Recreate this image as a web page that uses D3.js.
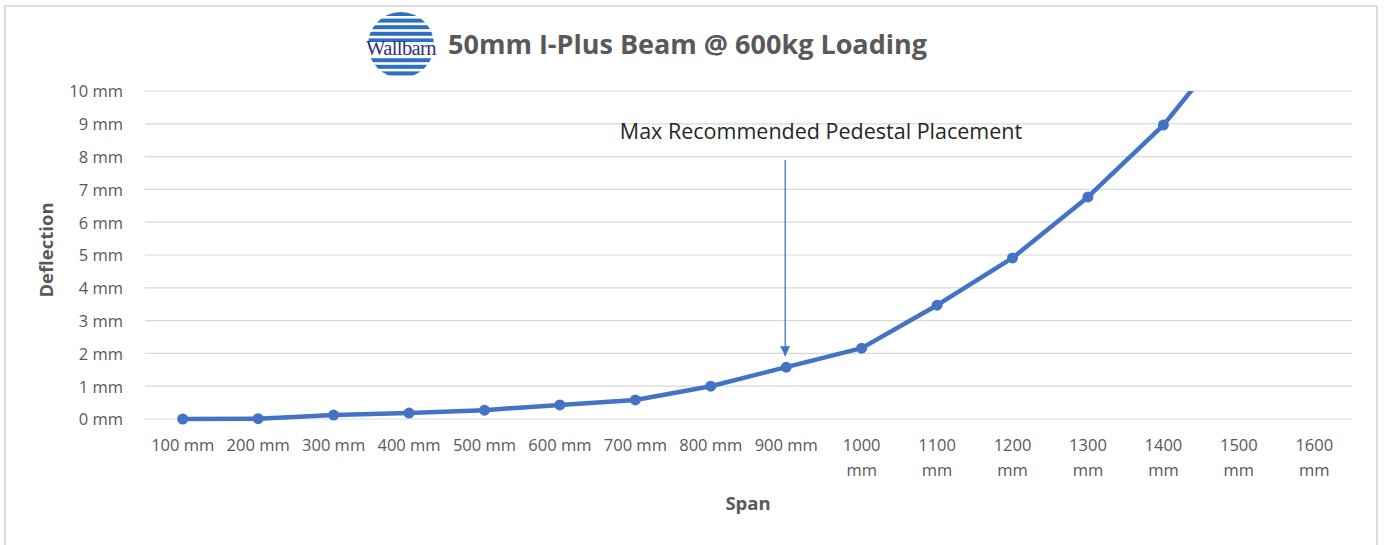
<!DOCTYPE html>
<html>
<head>
<meta charset="utf-8">
<script src="https://cdn.jsdelivr.net/npm/d3@7"></script>
<style>
  body { margin: 0; background: #fff; }
  text { font-family: "Open Sans", "Noto Sans", sans-serif; }
</style>
</head>
<body>
<script>
// chart data
const spans = ['100 mm', '200 mm', '300 mm', '400 mm', '500 mm', '600 mm', '700 mm', '800 mm',
    '900 mm', '1000 mm', '1100 mm', '1200 mm', '1300 mm', '1400 mm', '1500 mm', '1600 mm']
const deflection = [0, 0.01, 0.12, 0.18, 0.27, 0.43, 0.58, 1.0,
    1.58, 2.16, 3.47, 4.91, 6.77, 8.96, 11.8, 15.2]
const yTicks = [0, 1, 2, 3, 4, 5, 6, 7, 8, 9, 10]
const title = '50mm I-Plus Beam @ 600kg Loading'
const note = 'Max Recommended Pedestal Placement'
const noteSpan = '900 mm'

const m = { width: 1384, height: 545 }
const plot = { left: 145, right: 1352, top: 91, bottom: 419 }
const blue = '#4472C4'
const grey = '#595959'

const svg = d3.select('body').append('svg')
    .attr('width', m.width)
    .attr('height', m.height)

// outer chart frame (bottom edge is cut off in the original)
svg.append('path')
    .attr('d', 'M5,545 V6 H1377 V545')
    .attr('fill', 'none')
    .attr('stroke', '#dedede')
    .attr('stroke-width', 2)

const x = d3.scaleBand()
    .domain(spans)
    .range([plot.left, plot.right])

const y = d3.scaleLinear()
    .domain([0, 10])
    .range([plot.bottom, plot.top])

// gridlines
svg.append('g')
    .selectAll('line')
    .data(yTicks)
    .enter()
    .append('line')
        .attr('x1', plot.left)
        .attr('x2', plot.right)
        .attr('y1', d => y(d))
        .attr('y2', d => y(d))
        .attr('stroke', '#d9d9d9')
        .attr('stroke-width', 1.2)

// y axis labels
const yAxis = svg.append('g')
    .attr('transform', `translate(${plot.left - 19},0)`)
    .call(d3.axisLeft(y).tickValues(yTicks).tickSize(0).tickFormat(d => d + ' mm'))
yAxis.select('.domain').remove()
yAxis.selectAll('text')
    .attr('fill', grey)
    .attr('dy', '0.36em')
    .style('font-size', '16.5px')
    .style('font-family', '"Open Sans", sans-serif')

// x axis labels, wrapped like the original when they are too wide
const xAxis = svg.append('g')
    .attr('transform', `translate(0,${plot.bottom + 32})`)
    .call(d3.axisBottom(x).tickSize(0).tickFormat(''))
xAxis.select('.domain').remove()
xAxis.selectAll('.tick').each(function(d) {
    const t = d3.select(this).append('text')
        .attr('fill', grey)
        .attr('text-anchor', 'middle')
        .style('font-size', '16.5px')
    const parts = d.split(' ')
    if (parts[0].length > 3) {
        t.append('tspan').attr('x', 0).attr('y', 0).text(parts[0])
        t.append('tspan').attr('x', 0).attr('y', 25).text(parts[1])
    } else {
        t.attr('y', 0).text(d)
    }
})

// axis titles
svg.append('text')
    .attr('transform', `translate(53,${(plot.top + plot.bottom) / 2 - 5}) rotate(-90)`)
    .attr('text-anchor', 'middle')
    .attr('fill', grey)
    .style('font-size', '18.5px')
    .style('font-weight', 'bold')
    .text('Deflection')

svg.append('text')
    .attr('x', 748)
    .attr('y', 510)
    .attr('text-anchor', 'middle')
    .attr('fill', grey)
    .style('font-size', '18.5px')
    .style('font-weight', 'bold')
    .text('Span')

// series line, clipped to the plot area
svg.append('clipPath').attr('id', 'clip')
    .append('rect')
        .attr('x', plot.left - 10)
        .attr('y', plot.top)
        .attr('width', plot.right - plot.left + 20)
        .attr('height', plot.bottom - plot.top + 10)

const cx = i => x(spans[i]) + x.bandwidth() / 2
const line = d3.line()
    .x((d, i) => cx(i))
    .y(d => y(d))

const series = svg.append('g').attr('clip-path', 'url(#clip)')
series.append('path')
    .datum(deflection)
    .attr('fill', 'none')
    .attr('stroke', blue)
    .attr('stroke-width', 4.5)
    .attr('stroke-linejoin', 'round')
    .attr('d', line)

series.selectAll('circle')
    .data(deflection)
    .enter()
    .append('circle')
        .attr('cx', (d, i) => cx(i))
        .attr('cy', d => y(d))
        .attr('r', 5.5)
        .attr('fill', blue)

// annotation with arrow
svg.append('defs').append('marker')
    .attr('id', 'arrow')
    .attr('viewBox', '0 0 10 10')
    .attr('refX', 10)
    .attr('refY', 5)
    .attr('markerWidth', 10)
    .attr('markerHeight', 10)
    .attr('markerUnits', 'userSpaceOnUse')
    .attr('orient', 'auto')
    .append('path')
        .attr('d', 'M0,0 L10,5 L0,10 Z')
        .attr('fill', blue)

const ni = spans.indexOf(noteSpan)
svg.append('line')
    .attr('x1', cx(ni) - 1)
    .attr('x2', cx(ni) - 1)
    .attr('y1', 160)
    .attr('y2', y(deflection[ni]) - 11)
    .attr('stroke', blue)
    .attr('stroke-width', 1.3)
    .attr('marker-end', 'url(#arrow)')

svg.append('text')
    .attr('x', 821)
    .attr('y', 139)
    .attr('text-anchor', 'middle')
    .attr('fill', '#262626')
    .style('font-size', '21.5px')
    .text(note)

// title + logo
const logo = svg.append('g').attr('transform', 'translate(401,45)')
logo.append('clipPath').attr('id', 'logoClip')
    .append('circle').attr('r', 33)
const stripes = logo.append('g').attr('clip-path', 'url(#logoClip)')
d3.range(-33, 34, 6.6).forEach(function(sy) {
    stripes.append('rect')
        .attr('x', -34)
        .attr('y', sy)
        .attr('width', 68)
        .attr('height', 4)
        .attr('fill', '#2f6fc0')
})
stripes.append('rect')
    .attr('x', -40).attr('y', -3).attr('width', 80).attr('height', 16)
    .attr('fill', '#fff')
logo.append('text')
    .attr('x', 0)
    .attr('y', 10)
    .attr('text-anchor', 'middle')
    .attr('fill', '#2b3384')
    .style('font-family', '"Liberation Serif", serif')
    .style('font-size', '20.5px')
    .style('letter-spacing', '-0.6px')
    .text('Wallbarn')

svg.append('text')
    .attr('x', 448)
    .attr('y', 54)
    .attr('fill', grey)
    .style('font-size', '27px')
    .style('font-weight', 'bold')
    .text(title)
</script>
</body>
</html>
